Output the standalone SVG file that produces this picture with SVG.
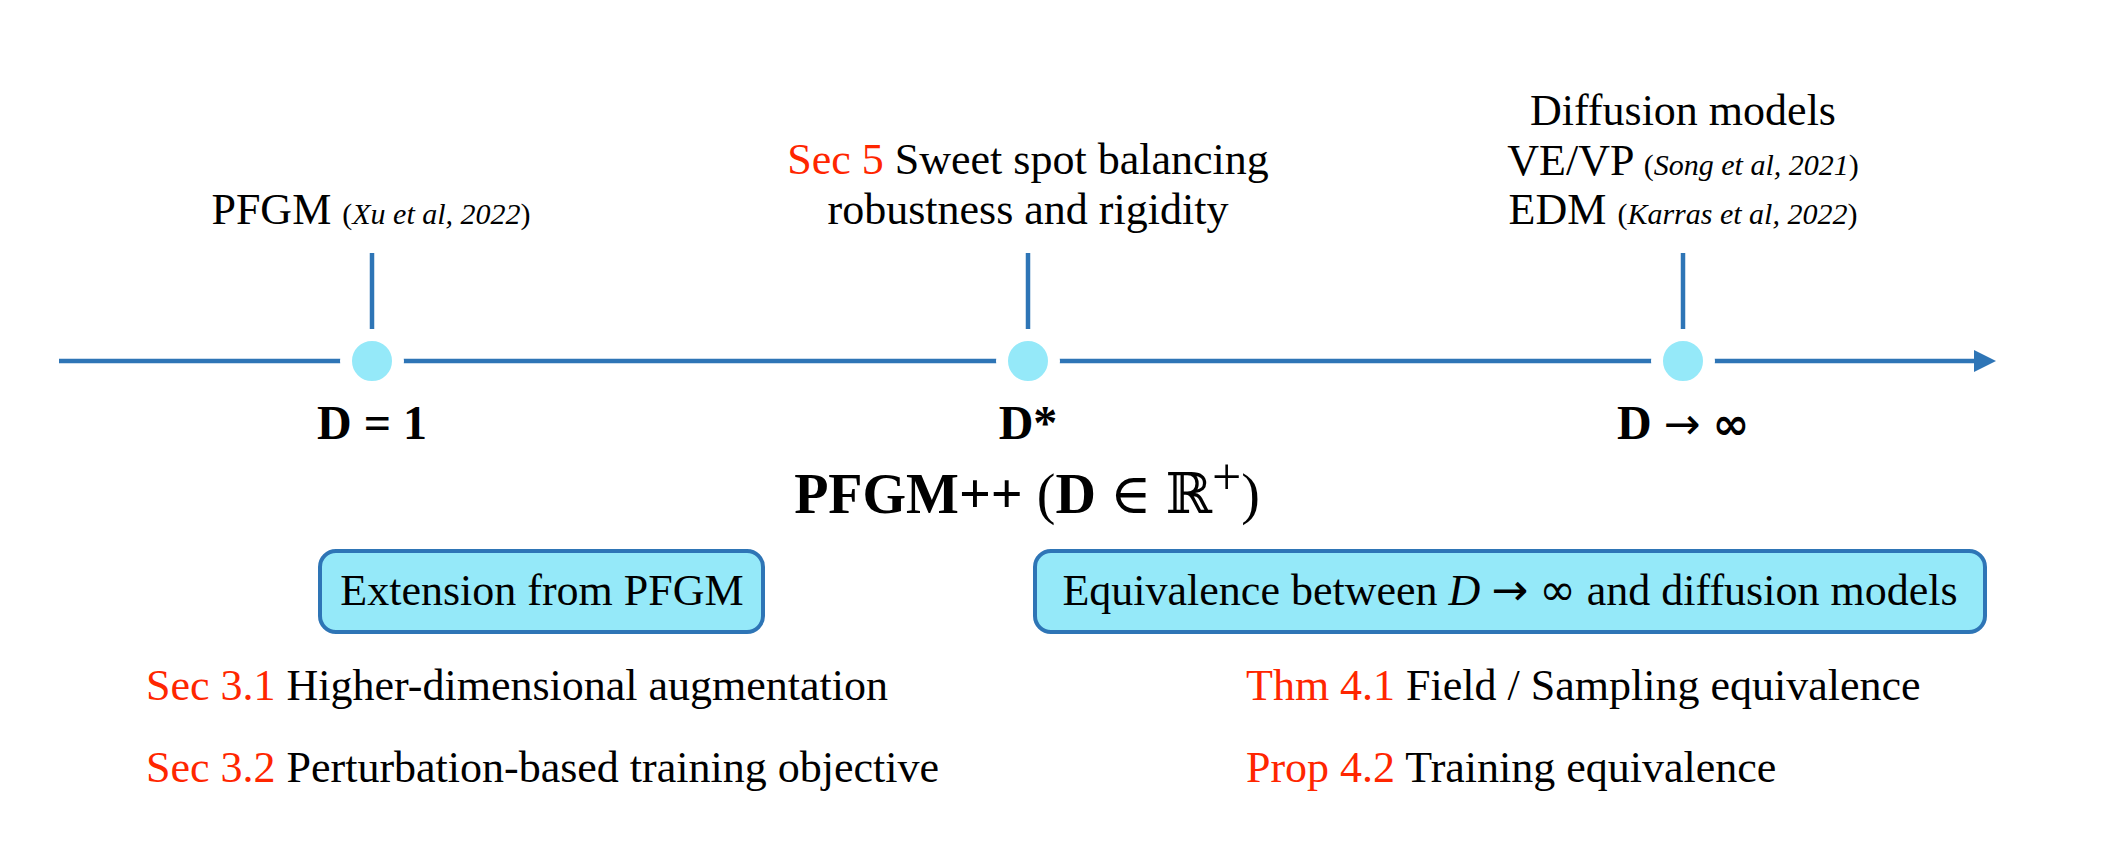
<svg xmlns="http://www.w3.org/2000/svg" width="2102" height="858" viewBox="0 0 2102 858">
<style>
text{font-family:"Liberation Serif","DejaVu Serif",serif;fill:#000;}
.t{font-size:44px;}
.c{font-size:30px;}
.i{font-style:italic;}
.b{font-weight:bold;}
.red{fill:#FF2600;}
.lbl{font-size:48px;}
.m{font-family:"DejaVu Sans",sans-serif;font-size:44px;font-style:normal;}
.axis{stroke:#2E75B6;stroke-width:4.5;fill:none;}
.tick{stroke:#2E75B6;stroke-width:4.5;}
.dot{fill:#95E9F9;stroke:#fff;stroke-width:12;}
.box{fill:#95E9F9;stroke:#2E75B6;stroke-width:4;}
</style>
<rect width="2102" height="858" fill="#fff"/>
<g id="connectors">
<line class="axis" x1="59" y1="361" x2="1976" y2="361"/>
<polygon points="1974,350 1996,361 1974,372" fill="#2E75B6"/>
<line class="tick" x1="372" y1="253" x2="372" y2="329"/>
<line class="tick" x1="1028" y1="253" x2="1028" y2="329"/>
<line class="tick" x1="1683" y1="253" x2="1683" y2="329"/>
</g>
<g id="node-d1">
<circle class="dot" cx="372" cy="361" r="26"/>
<text class="t" x="371" y="224" text-anchor="middle">PFGM <tspan class="c">(<tspan class="i">Xu et al, 2022</tspan>)</tspan></text>
<text class="lbl b" x="372" y="439" text-anchor="middle">D = 1</text>
</g>
<g id="node-dstar">
<circle class="dot" cx="1028" cy="361" r="26"/>
<text class="t" x="1028" y="174" text-anchor="middle"><tspan class="red">Sec 5</tspan> Sweet spot balancing</text>
<text class="t" x="1028" y="224" text-anchor="middle">robustness and rigidity</text>
<text class="lbl b" x="1028" y="439" text-anchor="middle">D*</text>
</g>
<g id="node-dinf">
<circle class="dot" cx="1683" cy="361" r="26"/>
<text class="t" x="1683" y="125" text-anchor="middle">Diffusion models</text>
<text class="t" x="1683" y="175" text-anchor="middle">VE/VP <tspan class="c">(<tspan class="i">Song et al, 2021</tspan>)</tspan></text>
<text class="t" x="1683" y="224" text-anchor="middle">EDM <tspan class="c">(<tspan class="i">Karras et al, 2022</tspan>)</tspan></text>
<text class="lbl" x="1683" y="439" text-anchor="middle"><tspan class="b">D</tspan> <tspan class="m">→</tspan> <tspan class="m b">∞</tspan></text>
</g>
<g id="title">
<text x="1027" y="513" text-anchor="middle" font-size="56"><tspan class="b">PFGM++</tspan> (<tspan class="b">D</tspan> ∈ ℝ<tspan style="font-size:52px" dy="-19">+</tspan><tspan dy="19">)</tspan></text>
</g>
<g id="box-extension">
<rect class="box" x="320" y="551" width="443" height="81" rx="16"/>
<text class="t" x="542" y="605" text-anchor="middle">Extension from PFGM</text>
</g>
<g id="box-equivalence">
<rect class="box" x="1035" y="551" width="950" height="81" rx="16"/>
<text class="t" x="1510" y="605" text-anchor="middle">Equivalence between <tspan class="i">D</tspan> <tspan class="m">→</tspan> <tspan class="m">∞</tspan> and diffusion models</text>
</g>
<g id="items-left">
<text class="t" x="146" y="700"><tspan class="red">Sec 3.1</tspan> Higher-dimensional augmentation</text>
<text class="t" x="146" y="782"><tspan class="red">Sec 3.2</tspan> Perturbation-based training objective</text>
</g>
<g id="items-right">
<text class="t" x="1246" y="700"><tspan class="red">Thm 4.1</tspan> Field / Sampling equivalence</text>
<text class="t" x="1246" y="782"><tspan class="red">Prop 4.2</tspan> Training equivalence</text>
</g>
</svg>
